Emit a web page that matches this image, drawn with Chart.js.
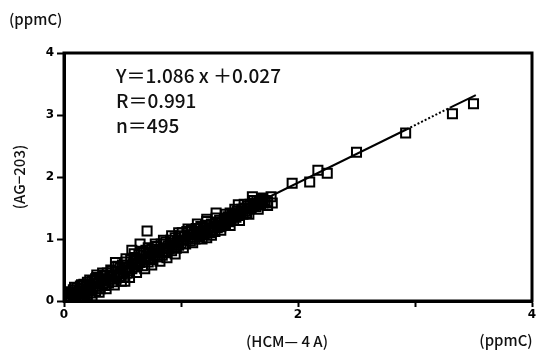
<!DOCTYPE html>
<html>
<head>
<meta charset="utf-8">
<script src="https://cdn.jsdelivr.net/npm/chart.js@4"></script>
<style>
  html, body { margin: 0; padding: 0; background: #fff; }
  canvas { display: block; }
</style>
</head>
<body>
<canvas id="scatterChart" width="541" height="357"></canvas>
<script>
// HCM-4A readings (x) and AG-203 readings (y), ppmC
const hcmValues = [
  0.04, 0.05, 0.06, 0.07, 0.08, 0.08, 0.09, 0.10, 0.10, 0.11, 0.12, 0.12, 0.13, 0.14, 0.14, 0.15, 0.16, 0.17, 0.17, 0.18, 0.19, 0.20, 0.20,
  0.21, 0.22, 0.23, 0.24, 0.25, 0.26, 0.27, 0.28, 0.28, 0.29, 0.30, 0.31, 0.32, 0.33, 0.34, 0.35, 0.36, 0.37, 0.38, 0.39, 0.40,
  0.41, 0.42, 0.43, 0.44, 0.44, 0.45, 0.46, 0.47, 0.48, 0.49, 0.50, 0.51, 0.52, 0.52, 0.53, 0.54, 0.55, 0.56, 0.57, 0.58, 0.58, 0.59,
  0.60, 0.61, 0.62, 0.63, 0.64, 0.65, 0.65, 0.66, 0.67, 0.68, 0.69, 0.70, 0.70, 0.71, 0.72, 0.73, 0.74, 0.75, 0.76, 0.77, 0.78, 0.79,
  0.80, 0.81, 0.82, 0.83, 0.84, 0.85, 0.86, 0.87, 0.88, 0.89, 0.90, 0.91, 0.92, 0.93, 0.94, 0.95, 0.96, 0.97, 0.98, 0.99, 1.00,
  1.01, 1.02, 1.03, 1.04, 1.05, 1.06, 1.07, 1.08, 1.09, 1.10, 1.11, 1.12, 1.13, 1.14, 1.15, 1.16, 1.17, 1.18, 1.19, 1.20,
  1.21, 1.22, 1.22, 1.23, 1.24, 1.25, 1.26, 1.27, 1.28, 1.29, 1.30, 1.30, 1.31, 1.32, 1.33, 1.34, 1.35, 1.36, 1.37, 1.38, 1.39, 1.40,
  1.41, 1.42, 1.43, 1.44, 1.45, 1.46, 1.47, 1.48, 1.49, 1.50, 1.51, 1.52, 1.53, 1.54, 1.55, 1.56, 1.57, 1.58, 1.59, 1.60,
  1.61, 1.62, 1.63, 1.64, 1.65, 1.66, 1.67, 1.68, 1.69, 1.70, 1.72, 1.74, 1.77, 1.78,
  0.06, 0.09, 0.12, 0.15, 0.18, 0.22, 0.24, 0.27, 0.30, 0.33, 0.36, 0.40, 0.43, 0.46, 0.49, 0.53, 0.56, 0.60, 0.62, 0.66, 0.69, 0.72,
  0.75, 0.78, 0.82, 0.85, 0.88, 0.92, 0.95, 0.98, 1.02, 1.06, 1.10, 1.14, 1.18, 1.22, 1.26, 1.30, 1.34, 1.38, 1.42, 1.46, 1.50,
  1.54, 1.58, 1.62, 1.66, 1.70, 1.74,
  1.95, 2.10, 2.17, 2.25, 2.50, 2.92, 3.32, 3.50
];
const agValues = [
  0.03, 0.08, 0.05, 0.12, 0.04, 0.18, 0.09, 0.14, 0.03, 0.21, 0.07, 0.11, 0.16, 0.05, 0.24, 0.12, 0.19, 0.08, 0.27, 0.14, 0.22, 0.10, 0.30,
  0.17, 0.25, 0.13, 0.33, 0.21, 0.28, 0.16, 0.38, 0.42, 0.24, 0.31, 0.20, 0.36, 0.27, 0.41, 0.25, 0.33, 0.45, 0.29, 0.39, 0.35,
  0.48, 0.31, 0.42, 0.62, 0.55, 0.37, 0.47, 0.40, 0.53, 0.44, 0.58, 0.38, 0.32, 0.50, 0.63, 0.45, 0.55, 0.49, 0.66, 0.82, 0.52, 0.60,
  0.70, 0.55, 0.64, 0.58, 0.74, 0.92, 0.62, 0.68, 0.57, 0.78, 0.66, 0.82, 0.72, 1.13, 0.63, 0.76, 0.70, 0.84, 0.67, 0.80, 0.74, 0.88,
  0.71, 0.83, 0.77, 0.92, 0.74, 0.86, 0.80, 0.95, 0.78, 0.89, 0.84, 0.98, 0.81, 0.93, 0.87, 1.02, 0.85, 0.96, 0.90, 1.05, 0.93,
  1.10, 0.98, 1.04, 0.92, 1.12, 1.00, 1.07, 0.97, 1.14, 1.03, 1.09, 1.00, 1.17, 1.06, 1.12, 1.04, 1.20, 1.09, 1.15, 1.07,
  1.22, 1.02, 1.32, 1.13, 1.18, 1.10, 1.24, 1.15, 1.20, 1.12, 1.42, 1.26, 1.18, 1.23, 1.30, 1.20, 1.27, 1.22, 1.33, 1.25, 1.30, 1.36,
  1.28, 1.42, 1.33, 1.38, 1.30, 1.40, 1.35, 1.45, 1.55, 1.38, 1.43, 1.48, 1.40, 1.50, 1.45, 1.42, 1.53, 1.48, 1.56, 1.50,
  1.68, 1.54, 1.58, 1.52, 1.62, 1.56, 1.60, 1.55, 1.64, 1.58, 1.62, 1.60, 1.68, 1.58,
  0.15, 0.22, 0.01, 0.26, 0.04, 0.34, 0.08, 0.36, 0.14, 0.45, 0.20, 0.50, 0.26, 0.56, 0.32, 0.68, 0.38, 0.76, 0.46, 0.80, 0.52, 0.86,
  0.58, 0.92, 0.64, 0.98, 0.70, 1.05, 0.76, 1.10, 0.86, 1.16, 0.94, 1.24, 1.00, 1.28, 1.06, 1.34, 1.14, 1.40, 1.22, 1.48, 1.30,
  1.56, 1.40, 1.62, 1.48, 1.66, 1.54,
  1.90, 1.92, 2.11, 2.06, 2.40, 2.71, 3.02, 3.18
];

// regression line as drawn (dotted stretch between 2nd and 3rd point)
const fitLineX = [0.05, 2.93, 3.30, 3.52];
const fitLineY = [0.10, 2.77, 3.12, 3.32];

const axisTicks = [0, 1, 2, 3, 4];
const statLines = ['Y\uFF1D1.086 x \uFF0B0.027', 'R\uFF1D0.991', 'n\uFF1D495'];

const scatterPoints = hcmValues.map((x, i) => ({ x: x, y: agValues[i] }));
const linePoints = fitLineX.map((x, i) => ({ x: x, y: fitLineY[i] }));

const tickFont = { family: 'DejaVu Sans', size: 12, weight: 'bold' };

// frame + free text
const framePlugin = {
  id: 'frame',
  afterDraw(chart) {
    const ctx = chart.ctx;
    const a = chart.chartArea;
    ctx.save();
    ctx.strokeStyle = '#000';
    ctx.lineWidth = 3;
    ctx.strokeRect(a.left, a.top, a.right - a.left, a.bottom - a.top);

    ctx.fillStyle = '#111';
    ctx.textBaseline = 'middle';
    ctx.font = '500 19px "Noto Sans CJK JP"';
    ctx.textAlign = 'left';
    statLines.forEach((t, i) => {
      ctx.fillText(t, a.left + 52, a.top + 23 + i * 25);
    });

    ctx.font = '500 15px "Noto Sans CJK JP"';
    ctx.textAlign = 'left';
    ctx.fillText('(ppmC)', 9, 19);
    ctx.textAlign = 'center';
    ctx.fillText('(ppmC)', 506, 340);
    ctx.fillText('(HCM\u2014 4 A)', 287, 341);
    ctx.restore();
  }
};

const ctx = document.getElementById('scatterChart').getContext('2d');
const chart = new Chart(ctx, {
  type: 'scatter',
  data: {
    datasets: [
      {
        label: 'AG-203 vs HCM-4A',
        data: scatterPoints,
        pointStyle: 'rect',
        pointRadius: 6.4,
        pointBorderWidth: 2,
        borderColor: '#000',
        backgroundColor: 'rgba(0,0,0,0)'
      },
      {
        type: 'line',
        label: 'fit',
        data: linePoints,
        showLine: true,
        borderColor: '#000',
        borderWidth: 2,
        pointRadius: 0,
        fill: false,
        segment: {
          borderDash: c => c.p0DataIndex === 1 ? [2, 2] : undefined
        }
      }
    ]
  },
  options: {
    responsive: false,
    animation: false,
    layout: {
      padding: { top: 53, right: 9, left: 0, bottom: 0 }
    },
    plugins: {
      legend: { display: false },
      tooltip: { enabled: false }
    },
    scales: {
      x: {
        type: 'linear',
        min: 0,
        max: 4,
        afterBuildTicks: s => { s.ticks = axisTicks.map(v => ({ value: v })); },
        afterFit: s => { s.height = 56; },
        ticks: {
          color: '#000',
          font: tickFont,
          padding: 1,
          maxRotation: 0,
          callback: v => (v % 2 === 0 ? String(v) : '')
        },
        grid: {
          drawOnChartArea: false,
          drawTicks: true,
          tickLength: 6,
          tickWidth: 2,
          color: '#000'
        },
        border: { display: true, color: '#000', width: 3 }
      },
      y: {
        type: 'linear',
        min: 0,
        max: 4,
        afterBuildTicks: s => { s.ticks = axisTicks.map(v => ({ value: v })); },
        afterFit: s => { s.width = 64; },
        ticks: {
          color: '#000',
          font: tickFont,
          padding: 3
        },
        grid: {
          drawOnChartArea: false,
          drawTicks: true,
          tickLength: 7,
          tickWidth: 2,
          color: '#000'
        },
        border: { display: true, color: '#000', width: 3 },
        title: {
          display: true,
          text: '(AG\u2212203)',
          color: '#111',
          font: { family: 'Noto Sans CJK JP', size: 15, weight: '500' },
          padding: { top: 10, bottom: 0 }
        }
      }
    }
  },
  plugins: [framePlugin]
});
</script>
</body>
</html>
